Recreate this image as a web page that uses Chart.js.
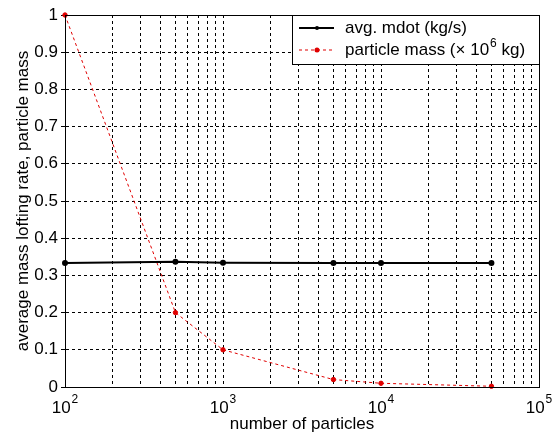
<!DOCTYPE html>
<html lang="en">
<head>
  <meta charset="UTF-8">
  <title>Mass lofting rate vs number of particles</title>
  <style>
    body {
      margin: 0;
      background: #fff;
    }
    .wrap {
      width: 555px;
      height: 437px;
      position: relative;
    }
  </style>
</head>
<body>
  <div class="wrap">
    <canvas id="chart" width="555" height="437"></canvas>
  </div>

  <script src="https://cdn.jsdelivr.net/npm/chart.js"></script>
  <script>
    // data
    const particles = [100, 500, 1000, 5000, 10000, 50000];
    const avgMdot = [0.333, 0.337, 0.334, 0.333, 0.333, 0.333];
    const particleMass = [1.0, 0.2, 0.1, 0.02, 0.01, 0.002];

    // log grid: 1..9 per decade, labels only at the decades
    const decades = [100, 1000, 10000];
    const multiples = [1, 2, 3, 4, 5, 6, 7, 8, 9];
    const xMajor = [100, 1000, 10000, 100000];
    const xMajorExp = ["2", "3", "4", "5"];

    const FONT = "'Liberation Sans', Arial, sans-serif";
    const FS = 17;

    const pts = (ys) => particles.map((x, i) => ({ x: x, y: ys[i] }));

    // draws the x tick labels (10^n), the frame and the legend box
    const decorPlugin = {
      id: "decor",
      afterDraw(chart) {
        const ctx = chart.ctx;
        const area = chart.chartArea;
        const xs = chart.scales.x;

        ctx.save();
        ctx.strokeStyle = "#000";
        ctx.lineWidth = 1;
        ctx.setLineDash([]);
        ctx.strokeRect(area.left + 0.5, area.top + 0.5, area.right - area.left, area.bottom - area.top);

        // x tick labels
        ctx.fillStyle = "#000";
        ctx.textBaseline = "alphabetic";
        xMajor.forEach((v, i) => {
          const px = xs.getPixelForValue(v);
          ctx.font = FS + "px " + FONT;
          const w1 = ctx.measureText("10").width;
          ctx.font = "12px " + FONT;
          const w2 = ctx.measureText(xMajorExp[i]).width;
          const x0 = px - (w1 + w2 + 1) / 2;
          ctx.font = FS + "px " + FONT;
          ctx.textAlign = "left";
          ctx.fillText("10", x0, area.bottom + 26);
          ctx.font = "12px " + FONT;
          ctx.fillText(xMajorExp[i], x0 + w1 + 1, area.bottom + 16);
        });

        // legend
        const lx = 292, ly = area.top, lw = area.right - 292, lh = 49;
        ctx.fillStyle = "#fff";
        ctx.fillRect(lx, ly, lw, lh);
        ctx.strokeStyle = "#000";
        ctx.strokeRect(lx + 0.5, ly + 0.5, lw, lh);

        const rows = [
          { y: ly + 13, color: "#000", dash: [], width: 2, r: 2 },
          { y: ly + 35, color: "#e00000", dash: [3, 3], width: 1, r: 2.5 }
        ];
        rows.forEach((row) => {
          ctx.beginPath();
          ctx.strokeStyle = row.color;
          ctx.lineWidth = row.width;
          ctx.setLineDash(row.dash);
          ctx.moveTo(299, row.y);
          ctx.lineTo(334, row.y);
          ctx.stroke();
          ctx.setLineDash([]);
          ctx.beginPath();
          ctx.fillStyle = row.color;
          ctx.arc(317, row.y, row.r, 0, Math.PI * 2);
          ctx.fill();
        });

        ctx.fillStyle = "#000";
        ctx.textAlign = "left";
        ctx.textBaseline = "middle";
        ctx.font = FS + "px " + FONT;
        ctx.fillText(chart.data.datasets[0].label, 345, rows[0].y);
        let tx = 345;
        const part1 = "particle mass (\u00d7 10";
        ctx.fillText(part1, tx, rows[1].y);
        tx += ctx.measureText(part1).width + 1;
        ctx.font = "12px " + FONT;
        ctx.fillText("6", tx, rows[1].y - 6);
        tx += ctx.measureText("6").width;
        ctx.font = FS + "px " + FONT;
        ctx.fillText(" kg)", tx, rows[1].y);
        ctx.restore();
      }
    };

    new Chart(document.getElementById("chart"), {
      type: "line",
      data: {
        datasets: [
          {
            label: "avg. mdot (kg/s)",
            data: pts(avgMdot),
            borderColor: "#000",
            backgroundColor: "#000",
            borderWidth: 2,
            pointRadius: 2,
            pointHoverRadius: 2,
            tension: 0,
            clip: false
          },
          {
            label: "particle mass (x 10^6 kg)",
            data: pts(particleMass),
            borderColor: "#e00000",
            backgroundColor: "#e00000",
            borderWidth: 1,
            borderDash: [3, 3],
            pointRadius: 2.2,
            pointHoverRadius: 2.2,
            tension: 0,
            clip: false
          }
        ]
      },
      options: {
        responsive: false,
        animation: false,
        devicePixelRatio: 1,
        layout: { padding: { top: 15, right: 16, left: 0, bottom: 0 } },
        plugins: {
          legend: { display: false },
          tooltip: { enabled: false }
        },
        scales: {
          x: {
            type: "logarithmic",
            min: 100,
            max: 100000,
            afterBuildTicks(scale) {
              const t = [];
              decades.forEach((d) => multiples.forEach((m) => t.push({ value: d * m })));
              t.push({ value: 100000 });
              scale.ticks = t;
            },
            afterFit(scale) { scale.height = 50; },
            ticks: { display: false, autoSkip: false },
            grid: { color: "#000", lineWidth: 1, drawTicks: false },
            border: { display: true, color: "#000", dash: [3, 3] },
            title: {
              display: true,
              text: "number of particles",
              color: "#000",
              font: { family: FONT, size: FS },
              padding: { top: 2, bottom: 2 }
            }
          },
          y: {
            min: 0,
            max: 1,
            afterFit(scale) { scale.width = 65; },
            ticks: {
              stepSize: 0.1,
              color: "#000",
              font: { family: FONT, size: FS },
              padding: 3,
              callback: (v) => String(Math.round(v * 10) / 10)
            },
            grid: { color: "#000", lineWidth: 1, tickLength: 4 },
            border: { display: true, color: "#000", dash: [3, 3] },
            title: {
              display: true,
              text: "average mass lofting rate, particle mass",
              color: "#000",
              font: { family: FONT, size: FS },
              padding: { top: 13, bottom: 0 }
            }
          }
        }
      },
      plugins: [decorPlugin]
    });
  </script>
</body>
</html>
